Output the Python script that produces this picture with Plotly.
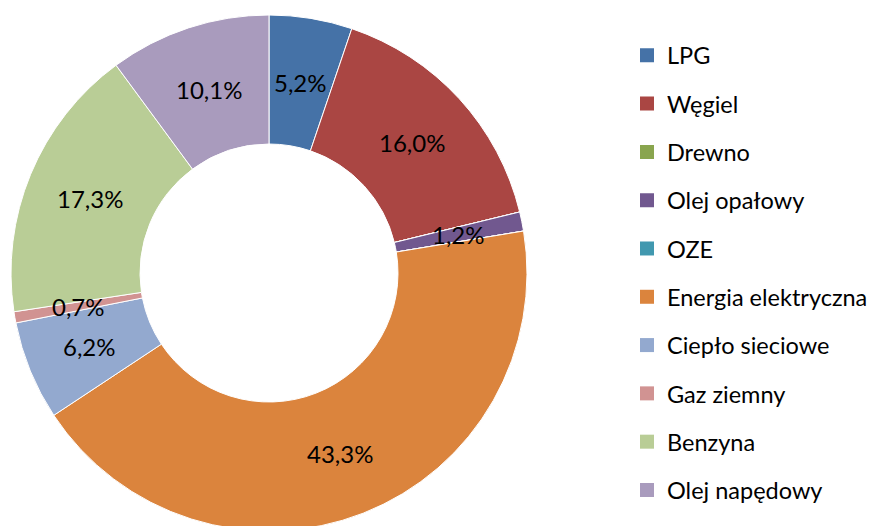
import math
import plotly.graph_objects as go

categories = ["LPG", "Węgiel", "Drewno", "Olej opałowy", "OZE", "Energia elektryczna",
              "Ciepło sieciowe", "Gaz ziemny", "Benzyna", "Olej napędowy"]
shares = [5.2, 16.0, 0.0, 1.2, 0.0, 43.3, 6.2, 0.7, 17.3, 10.1]
colors = ["#4572A7", "#AA4643", "#89A54E", "#71588F", "#4198AF", "#DB843D",
          "#93A9CF", "#D19392", "#B9CD96", "#A99BBD"]

labels_text = [(f"{v:.1f}".replace(".", ",") + "%") if v > 0 else "" for v in shares]

FONT = "Lato"
FS = 24
LFS = 23.5

W, H = 880, 526
OFF = 8  # default page body margin
cx, cy, R = 269 - OFF, 273 - OFF, 258
HOLE = 0.5

fig = go.Figure()
fig.add_trace(go.Pie(
    labels=categories, values=shares,
    textinfo="none",
    sort=False, direction="clockwise", rotation=0, hole=HOLE,
    marker=dict(colors=colors, line=dict(color="white", width=1)),
    showlegend=False, hoverinfo="label+percent",
    domain=dict(x=[(cx - R) / W, (cx + R) / W], y=[1 - (cy + R) / H, 1 - (cy - R) / H]),
))

# data labels at the middle of the ring, at each slice's mid-angle
total = sum(shares)
rm = R * (1 + HOLE) / 2
cum = 0.0
for v, t in zip(shares, labels_text):
    mid = (cum + v / 2) / total * 2 * math.pi
    cum += v
    if not t:
        continue
    px = cx + rm * math.sin(mid)
    py = cy - rm * math.cos(mid)
    fig.add_annotation(x=px / W, y=1 - py / H, xref="paper", yref="paper",
                       text=t, showarrow=False, xanchor="center", yanchor="middle",
                       font=dict(family=FONT, size=FS, color="black"))

for i, (name, col) in enumerate(zip(categories, colors)):
    fig.add_trace(go.Scatter(
        x=[None], y=[None], mode="markers", name=name,
        marker=dict(symbol="square", size=14, color=col),
        legendgroup=f"g{i}", showlegend=True, hoverinfo="skip",
    ))

fig.update_layout(
    width=W, height=H, margin=dict(l=0, r=0, t=0, b=0),
    paper_bgcolor="white", plot_bgcolor="white",
    xaxis=dict(visible=False), yaxis=dict(visible=False),
    legend=dict(x=619 / W, xanchor="left", y=1 - 25.5 / H, yanchor="top",
                font=dict(family=FONT, size=LFS, color="black"),
                tracegroupgap=14.75, traceorder="grouped", itemclick=False,
                bgcolor="rgba(0,0,0,0)"),
)

fig.write_html("out.html")
